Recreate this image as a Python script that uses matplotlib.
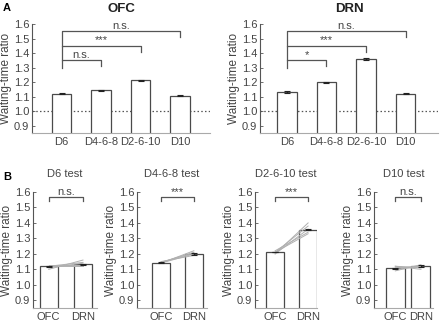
import numpy as np
import matplotlib
matplotlib.use('Agg')
import matplotlib.pyplot as plt

plt.rcParams['font.family'] = ['Liberation Sans', 'DejaVu Sans']

# Panel A data
top_groups = ['D6', 'D4-6-8', 'D2-6-10', 'D10']
ofc_means = [1.12, 1.143, 1.212, 1.108]
ofc_sem = [0.004, 0.003, 0.004, 0.006]
drn_means = [1.132, 1.200, 1.357, 1.120]
drn_sem = [0.006, 0.003, 0.008, 0.003]
ofc_sig = ['n.s.', '***', 'n.s.']
drn_sig = ['*', '***', 'n.s.']

# Panel B data
tests = ['D6 test', 'D4-6-8 test', 'D2-6-10 test', 'D10 test']
b_ofc = [1.12, 1.143, 1.212, 1.108]
b_drn = [1.132, 1.200, 1.357, 1.120]
b_sig = ['n.s.', '***', '***', 'n.s.']
ind_ofc = [
    [1.10, 1.11, 1.12, 1.13, 1.12],
    [1.14, 1.145, 1.15, 1.14, 1.145],
    [1.20, 1.21, 1.22, 1.21, 1.20],
    [1.09, 1.10, 1.12, 1.11, 1.12],
]
ind_drn = [
    [1.16, 1.14, 1.12, 1.13, 1.145],
    [1.22, 1.21, 1.19, 1.20, 1.205],
    [1.40, 1.38, 1.34, 1.33, 1.36],
    [1.13, 1.12, 1.11, 1.12, 1.10],
]

W, H = 440, 324
fig = plt.figure(figsize=(W / 100, H / 100), dpi=100)

EDGE = '#4a4a4a'
TXT = '#444444'


def px_axes(x0, y0, x1, y1):
    return fig.add_axes([x0 / W, 1 - y1 / H, (x1 - x0) / W, (y1 - y0) / H])


def style(ax):
    for s in ['top', 'right']:
        ax.spines[s].set_visible(False)
    ax.spines['left'].set_color('#555555')
    ax.spines['bottom'].set_color('#aaaaaa')
    ax.spines['left'].set_linewidth(0.8)
    ax.spines['bottom'].set_linewidth(0.8)
    ax.set_ylim(0.85, 1.6)
    ax.set_yticks([0.9, 1.0, 1.1, 1.2, 1.3, 1.4, 1.5, 1.6])
    ax.set_yticklabels(['0.9', '1.0', '1.1', '1.2', '1.3', '1.4', '1.5', '1.6'])
    ax.tick_params(axis='y', direction='in', length=2, width=0.6, colors='#555555',
                   labelsize=8, labelcolor=TXT, pad=2)
    ax.tick_params(axis='x', length=0, labelsize=8, labelcolor=TXT, pad=3)
    ax.set_ylabel('Waiting-time ratio', fontsize=8.5, color=TXT, labelpad=1)


def bracket(ax, x1, x2, y, label, lleg, rleg=0.04):
    ax.plot([x1, x1, x2, x2], [y - lleg, y, y, y - rleg], color='#555555',
            lw=0.9, clip_on=False, zorder=5)
    ax.text((x1 + x2) / 2, y + 0.004, label, ha='center', va='bottom',
            fontsize=8, color=TXT, clip_on=False)


# Panel A
top_specs = [
    ('OFC', ofc_means, ofc_sem, ofc_sig, (32, 24, 210, 133), (0.25, 4.76)),
    ('DRN', drn_means, drn_sem, drn_sig, (260, 24, 438, 133), (0.32, 4.82)),
]
for title, means, sem, sig, box, xl in top_specs:
    ax = px_axes(*box)
    style(ax)
    x = np.arange(1, len(top_groups) + 1)
    ax.axhline(1.0, color='#555555', ls=(0, (1.2, 1.8)), lw=0.9, zorder=1)
    ax.bar(x, means, width=0.5, color='white', edgecolor=EDGE, linewidth=0.9,
           zorder=2)
    ax.errorbar(x, means, yerr=sem, fmt='none', ecolor='#222222', elinewidth=0.8,
                capsize=2, capthick=0.8, zorder=3)
    ax.set_xlim(*xl)
    ax.set_xticks(x)
    ax.set_xticklabels(top_groups)
    ax.set_title(title, fontsize=9.5, fontweight='bold', color='#222222', pad=9)
    bracket(ax, 1, 2, 1.35, sig[0], 0.05)
    bracket(ax, 1, 3, 1.45, sig[1], 0.10)
    bracket(ax, 1, 4, 1.55, sig[2], 0.10)

# Panel B
bot_boxes = [(33, 192, 97, 308), (137, 192, 207, 308),
             (255, 192, 317, 308), (374, 192, 433, 308)]
bot_xlims = [(0.54, 2.41), (0.27, 2.4), (0.39, 2.27), (0.17, 2.47)]
bot_width = [0.53, 0.55, 0.55, 0.74]
for i, t in enumerate(tests):
    ax = px_axes(*bot_boxes[i])
    style(ax)
    x = np.array([1, 2])
    ax.bar(x, [b_ofc[i], b_drn[i]], width=bot_width[i], color='white',
           edgecolor=EDGE, linewidth=0.9, zorder=2)
    for a, b in zip(ind_ofc[i], ind_drn[i]):
        ax.plot(x, [a, b], color='#b0b0b0', lw=0.7, zorder=3)
    ax.errorbar(x, [b_ofc[i], b_drn[i]], yerr=[0.003, 0.005], fmt='none',
                ecolor='#222222', elinewidth=0.8, capsize=2, capthick=0.8,
                zorder=4)
    ax.set_xlim(*bot_xlims[i])
    ax.set_xticks(x)
    ax.set_xticklabels(['OFC', 'DRN'])
    ax.set_title(t, fontsize=8, color=TXT, pad=11)
    bracket(ax, 1, 2, 1.565, b_sig[i], 0.025, 0.025)

fig.text(3 / W, 1 - 3 / H, 'A', fontsize=8, fontweight='bold', va='top')
fig.text(3 / W, 1 - 172 / H, 'B', fontsize=8, fontweight='bold', va='top')

fig.savefig('out.png', dpi=100)
